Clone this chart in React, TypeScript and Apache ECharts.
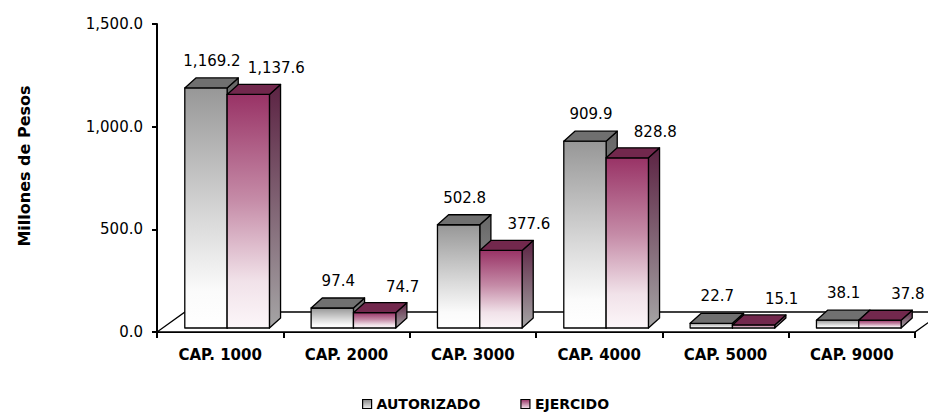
import React, { useEffect, useRef } from 'react';
import * as echarts from 'echarts';

const CATEGORIES = ['CAP. 1000', 'CAP. 2000', 'CAP. 3000', 'CAP. 4000', 'CAP. 5000', 'CAP. 9000'];
const AUTORIZADO = [1169.2, 97.4, 502.8, 909.9, 22.7, 38.1];
const EJERCIDO = [1137.6, 74.7, 377.6, 828.8, 15.1, 37.8];
const SERIES_NAMES = ['AUTORIZADO', 'EJERCIDO'];
const Y_NAME = 'Millones de Pesos';
const Y_MIN = 0;
const Y_MAX = 1500;
const Y_STEP = 500;

const FONT = '"DejaVu Sans", "Liberation Sans", sans-serif';

function fmt(v: number): string {
  const s = Number(v).toFixed(1);
  const parts = s.split('.');
  return parts[0].replace(/\B(?=(\d{3})+(?!\d))/g, ',') + '.' + parts[1];
}

const grad = (stops: [number, string][]) =>
  new echarts.graphic.LinearGradient(0, 0, 0, 1, stops.map(([offset, color]) => ({ offset, color })));

const LOOK = [
  {
    front: () => grad([[0, '#979797'], [0.55, '#d9d9d9'], [0.85, '#fbfbfb'], [1, '#ffffff']]),
    side: () => grad([[0, '#666666'], [1, '#a6a6a6']]),
    top: '#707070',
    labelDx: 6,
    labelDy: -27,
  },
  {
    front: () => grad([[0, '#993366'], [0.45, '#c58ba7'], [0.8, '#f1e2e9'], [1, '#fcf6f9']]),
    side: () => grad([[0, '#5c2343'], [1, '#a5a5a5']]),
    top: '#72284d',
    labelDx: 28,
    labelDy: -26,
  },
];

function barRenderer(role: number) {
  const look = LOOK[role];
  return (params: any, api: any) => {
    const idx = api.value(0);
    const v = api.value(1);
    const base = api.coord([idx, 0]);
    const top = api.coord([idx, v]);
    const band = api.size([1, 0])[0];
    const bw = band * 0.335;
    const pairCx = base[0] + band * 0.055;
    const left = role === 0 ? pairCx - bw : pairCx;
    const right = left + bw;
    const yb = base[1] - 4;
    const yt = top[1] - 4;
    const dx = band * 0.088;
    const dy = 10;
    const stroke = { stroke: '#000', lineWidth: 1.3, lineJoin: 'round' };
    return {
      type: 'group',
      children: [
        {
          type: 'polygon',
          shape: { points: [[right, yt], [right + dx, yt - dy], [right + dx, yb - dy], [right, yb]] },
          style: { fill: look.side(), ...stroke },
        },
        {
          type: 'polygon',
          shape: { points: [[left, yt], [right, yt], [right, yb], [left, yb]] },
          style: { fill: look.front(), ...stroke },
        },
        {
          type: 'polygon',
          shape: { points: [[left, yt], [left + dx, yt - dy], [right + dx, yt - dy], [right, yt]] },
          style: { fill: look.top, ...stroke },
        },
        {
          type: 'text',
          x: left + bw / 2 + look.labelDx,
          y: yt + look.labelDy,
          style: {
            text: fmt(v),
            fill: '#000',
            font: `15px ${FONT}`,
            align: 'center',
            verticalAlign: 'middle',
          },
        },
      ],
    };
  };
}

function floorRenderer(params: any) {
  const cs = params.coordSys;
  const x = cs.x;
  const yb = cs.y + cs.height;
  const w = cs.width;
  const ddx = 28;
  const ddy = 20;
  return {
    type: 'polygon',
    shape: { points: [[x, yb], [x + w, yb], [x + w + ddx, yb - ddy], [x + ddx, yb - ddy]] },
    style: { fill: '#ffffff', stroke: '#000', lineWidth: 1.3 },
  };
}

export default function App() {
  const ref = useRef<HTMLDivElement>(null);
  useEffect(() => {
    document.body.style.margin = '0';
    if (!ref.current) return;
    const chart = echarts.init(ref.current, undefined, { renderer: 'svg' });
    chart.setOption({
      animation: false,
      backgroundColor: '#ffffff',
      grid: { left: 157, right: 13, top: 24, bottom: 80, containLabel: false },
      legend: {
        left: 362,
        top: 396,
        padding: 0,
        itemWidth: 9,
        itemHeight: 9,
        itemGap: 40,
        textStyle: { fontFamily: FONT, fontWeight: 'bold', fontSize: 14, color: '#000', lineHeight: 16 },
        data: [
          {
            name: SERIES_NAMES[0],
            icon: 'rect',
            itemStyle: { color: grad([[0, '#888888'], [1, '#eeeeee']]), borderColor: '#000', borderWidth: 1.2 },
          },
          {
            name: SERIES_NAMES[1],
            icon: 'rect',
            itemStyle: { color: grad([[0, '#993366'], [1, '#f4e4ec']]), borderColor: '#000', borderWidth: 1.2 },
          },
        ],
      },
      xAxis: {
        type: 'category',
        data: CATEGORIES,
        boundaryGap: true,
        axisLine: { lineStyle: { color: '#000', width: 2 } },
        axisTick: { show: true, length: 6, lineStyle: { color: '#000', width: 2 } },
        axisLabel: {
          color: '#000',
          fontFamily: FONT,
          fontWeight: 'bold',
          fontSize: 15,
          margin: 15,
          interval: 0,
        },
        splitLine: { show: false },
      },
      yAxis: {
        type: 'value',
        min: Y_MIN,
        max: Y_MAX,
        interval: Y_STEP,
        name: Y_NAME,
        nameLocation: 'middle',
        nameRotate: 90,
        nameGap: 125,
        nameTextStyle: {
          color: '#000',
          fontFamily: FONT,
          fontWeight: 'bold',
          fontSize: 16,
          padding: [0, 0, 0, 24],
        },
        axisLine: { show: true, lineStyle: { color: '#000', width: 2 } },
        axisTick: { show: true, length: 5, lineStyle: { color: '#000', width: 2 } },
        axisLabel: {
          color: '#000',
          fontFamily: FONT,
          fontSize: 15,
          margin: 14,
          formatter: (v: number) => fmt(v),
        },
        splitLine: { show: false },
      },
      series: [
        {
          name: 'floor',
          type: 'custom',
          renderItem: floorRenderer,
          data: [[0, 0]],
          silent: true,
          z: 1,
        },
        {
          name: SERIES_NAMES[0],
          type: 'custom',
          renderItem: barRenderer(0),
          encode: { x: 0, y: 1 },
          data: AUTORIZADO.map((v, i) => [i, v]),
          z: 2,
        },
        {
          name: SERIES_NAMES[1],
          type: 'custom',
          renderItem: barRenderer(1),
          encode: { x: 0, y: 1 },
          data: EJERCIDO.map((v, i) => [i, v]),
          z: 3,
        },
      ],
    });
    return () => chart.dispose();
  }, []);
  return <div ref={ref} style={{ width: 928, height: 412 }} />;
}
